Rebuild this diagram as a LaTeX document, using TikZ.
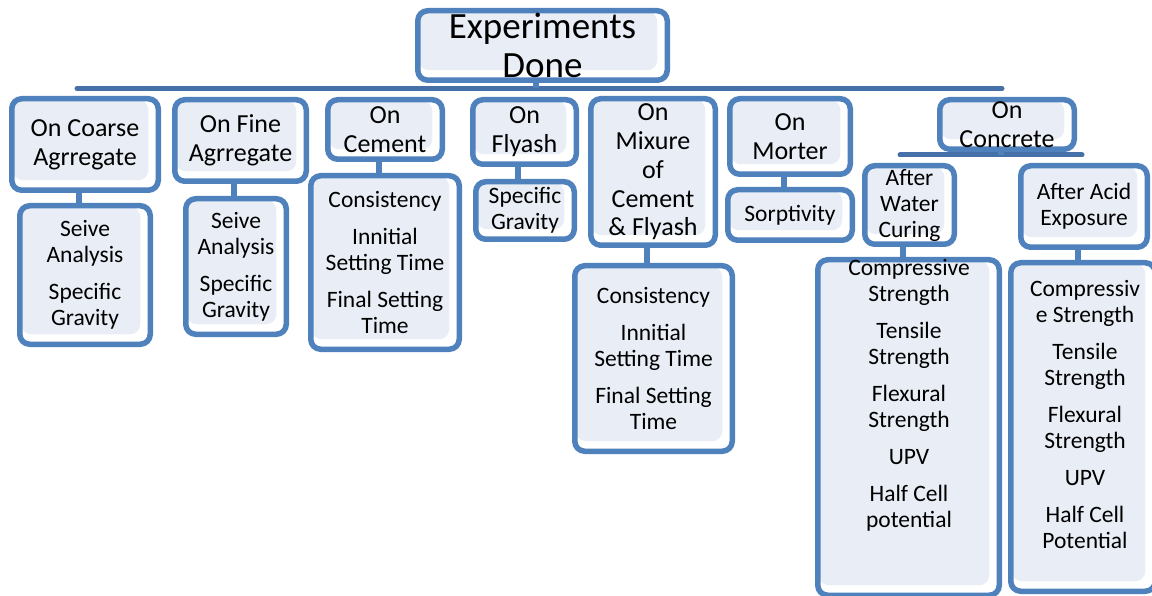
\documentclass[tikz,border=0pt]{standalone}
\usepackage{fontspec}
\setmainfont{Carlito}
\definecolor{boxblue}{HTML}{4F81BD}
\definecolor{barblue}{HTML}{4670A8}
\definecolor{boxfill}{HTML}{E9EEF6}
\newcommand{\fsz}{\fontsize{23.5}{26}\selectfont}
\newcommand{\fmid}{\fontsize{26}{28.7}\selectfont}
\newcommand{\fbig}{\fontsize{37}{39}\selectfont}
\tikzset{
  box/.style={draw=boxblue, line width=5.5pt, rounded corners=10pt, fill=white,
    inner sep=0pt, align=center, font=\fsz,
    path picture={\fill[boxfill] ([shift={(1pt,-1pt)}]path picture bounding box.north west)
      rectangle ([shift={(-10pt,10pt)}]path picture bounding box.south east);}},
  lone/.style={box, font=\fmid},
  txt/.style={align=center, font=\fsz, inner sep=0pt},
  stub/.style={draw=boxblue, line width=6pt},
  hbar/.style={draw=barblue, line width=5pt, line cap=round},
}
\begin{document}
\begin{tikzpicture}[x=1pt,y=-1pt]
\useasboundingbox (0,0) rectangle (1152,596);
% top
\node[box, font=\fbig, minimum width=249.5pt, minimum height=69.5pt] (top) at (542.5,45.5) {Experiments\\Done};
\coordinate (barL) at (77,88.5);
\coordinate (barR) at (1002,88.5);
\draw[hbar] (barL) -- (barR);
\draw[stub] ([xshift=-6.5pt]top.south) -- ([xshift=-6.5pt]top.south |- barL);
% level 1
\node[lone, minimum width=146.5pt, minimum height=91.5pt] (coarse) at (85,144.5) {On Coarse\\Agrregate};
\node[lone, minimum width=131.5pt, minimum height=81.5pt] (fine) at (240.5,140.5) {On Fine\\Agrregate};
\node[lone, minimum width=114.5pt, minimum height=59.5pt] (cement) at (385,129.5) {On\\Cement};
\node[lone, minimum width=103.5pt, minimum height=64.5pt] (flyash) at (524.5,132) {On\\Flyash};
\node[lone, minimum width=124.5pt, minimum height=146.5pt] (mix) at (653,172) {On\\Mixure\\of\\Cement\\\& Flyash};
\node[lone, minimum width=120.5pt, minimum height=75.5pt] (morter) at (790,136.5) {On\\Morter};
\node[lone, minimum width=134.5pt, minimum height=49.5pt] (concrete) at (1007,124.5) {On\\Concrete};
\coordinate (cbarL) at (900,155);
\coordinate (cbarR) at (1082,155);
\draw[hbar] (cbarL) -- (cbarR);
\draw[stub] ([xshift=-6.5pt]concrete.south) -- ([xshift=-6.5pt]concrete.south |- cbarL);
% level 2
\node[box, minimum width=130.5pt, minimum height=138.5pt] (coarseC) at (85,275) {Seive\\Analysis\\[11pt]Specific\\Gravity};
\node[box, minimum width=100.5pt, minimum height=135.5pt] (fineC) at (236,266.5) {Seive\\Analysis\\[11pt]Specific\\Gravity};
\node[box, minimum width=148.5pt, minimum height=173.5pt] (cementC) at (385,262.5) {Consistency\\[11pt]Innitial\\Setting Time\\[11pt]Final Setting\\Time};
\node[box, minimum width=98.5pt, minimum height=57.5pt] (flyashC) at (525,210.5) {Specific\\Gravity};
\node[box, minimum width=157.5pt, minimum height=185.5pt] (mixC) at (653.5,358.5) {Consistency\\[11pt]Innitial\\Setting Time\\[11pt]Final Setting\\Time};
\node[box, minimum width=124.5pt, minimum height=50.5pt] (morterC) at (790,215) {Sorptivity};
\node[box, minimum width=89.5pt, minimum height=78.5pt] (water) at (909.5,205) {After\\Water\\Curing};
\node[box, minimum width=126.5pt, minimum height=81.5pt] (acid) at (1084,206.5) {After Acid\\Exposure};
\node[box, minimum width=181.5pt, minimum height=335.5pt] (waterC) at (908.5,427.5) {};
\node[txt] (waterT) at (909,395) {Compressive\\Strength\\[11pt]Tensile\\Strength\\[11pt]Flexural\\Strength\\[11pt]UPV\\[11pt]Half Cell\\potential};
\node[box, minimum width=144.5pt, minimum height=328.5pt] (acidC) at (1083,427) {};
\node[txt] (acidT) at (1085,414) {Compressiv\\e Strength\\[11pt]Tensile\\Strength\\[11pt]Flexural\\Strength\\[11pt]UPV\\[11pt]Half Cell\\Potential};
% stubs
\foreach \p/\c in {coarse/coarseC, fine/fineC, cement/cementC, flyash/flyashC, mix/mixC, morter/morterC, water/waterC, acid/acidC}
  \draw[stub] ([xshift=-6.5pt]\p.south) -- ([xshift=-6.5pt]\p.south |- \c.north);
\end{tikzpicture}
\end{document}
